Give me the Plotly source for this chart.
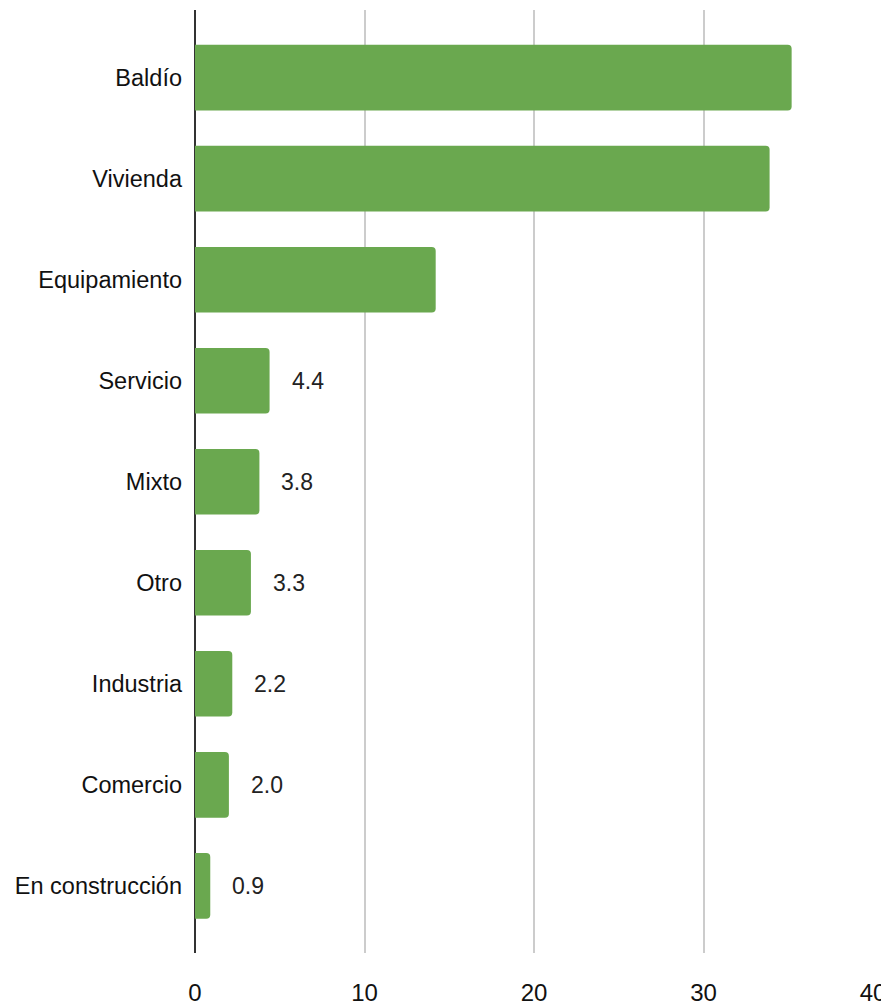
import plotly.graph_objects as go

categories = ["Baldío", "Vivienda", "Equipamiento", "Servicio", "Mixto", "Otro",
              "Industria", "Comercio", "En construcción"]
values = [35.2, 33.9, 14.2, 4.4, 3.8, 3.3, 2.2, 2.0, 0.9]
show_label = [False, False, False, True, True, True, True, True, True]
x_ticks = [0, 10, 20, 30, 40]

FONT = "Liberation Sans, Arial, sans-serif"
GREEN = "#6aa84f"

fig = go.Figure()
fig.add_trace(go.Bar(
    y=categories, x=values, orientation="h",
    marker=dict(color=GREEN, cornerradius=4, line=dict(width=0)),
    hoverinfo="skip",
))

for c, v, s in zip(categories, values, show_label):
    if s:
        fig.add_annotation(x=v, y=c, text=f"{v:.1f}", showarrow=False,
                           xanchor="left", yanchor="middle", xshift=20,
                           font=dict(family=FONT, size=23, color="#222222"))

fig.update_layout(
    width=881, height=999,
    margin=dict(l=187, r=16, t=2, b=54, autoexpand=False),
    paper_bgcolor="white", plot_bgcolor="white",
    bargap=0.35, showlegend=False,
    font=dict(family=FONT, size=23, color="#111111"),
)
fig.update_xaxes(
    range=[0, 40], tickvals=x_ticks, ticktext=[str(t) for t in x_ticks],
    showgrid=True, gridcolor="#cccccc", gridwidth=1.5,
    zeroline=True, zerolinecolor="#333333", zerolinewidth=1.5,
    showline=False, ticks="", ticklabelstandoff=23, automargin=False,
    tickfont=dict(family=FONT, size=24, color="#111111"),
)
fig.update_yaxes(
    range=[8.665, -0.67], showgrid=False, zeroline=False, showline=False,
    ticks="", ticklabelstandoff=12, automargin=False,
    tickfont=dict(family=FONT, size=23.5, color="#111111"),
)

fig.write_html("out.html")
